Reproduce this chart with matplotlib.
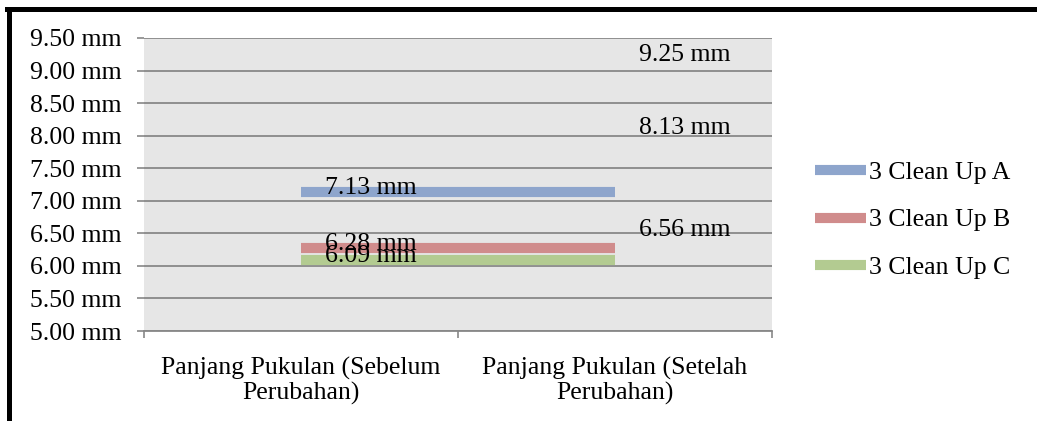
import matplotlib
matplotlib.use("Agg")
import matplotlib.pyplot as plt
from matplotlib.lines import Line2D

categories = ["Panjang Pukulan (Sebelum\nPerubahan)", "Panjang Pukulan (Setelah\nPerubahan)"]
series = ["3 Clean Up A", "3 Clean Up B", "3 Clean Up C"]
before = [7.13, 6.28, 6.09]
after = [9.25, 8.13, 6.56]
colors = ["#8ea5cc", "#d08c8c", "#b3cb91"]
yticks = [5.0, 5.5, 6.0, 6.5, 7.0, 7.5, 8.0, 8.5, 9.0, 9.5]

plt.rcParams['font.family'] = ['Liberation Serif', 'DejaVu Serif']
fs = 18.5

fig = plt.figure(figsize=(10.37, 4.21), dpi=100)
ax = fig.add_axes([144/1037, 1-331/421, (772-144)/1037, (331-38)/421])
ax.set_facecolor("#e6e6e6")

# the lines only show the first point, the second point is only a label
for i in range(len(series)):
    ax.plot([0, 1], [before[i], before[i]], color=colors[i], lw=7.3,
            solid_capstyle='butt', zorder=3)
    ax.annotate("%.2f mm" % before[i], (0, before[i]), xytext=(24, 4),
                textcoords='offset pixels', ha='left', va='center',
                fontsize=fs, zorder=4)
    ax.annotate("%.2f mm" % after[i], (1, after[i]), xytext=(24, -1),
                textcoords='offset pixels', ha='left', va='center',
                fontsize=fs, zorder=4)

ax.set_xlim(-0.5, 1.5)
ax.set_ylim(5.0, 9.5)
ax.set_yticks(yticks)
ax.set_yticklabels(["%.2f mm" % v for v in yticks], fontsize=fs)
ax.set_xticks([0, 1])
ax.set_xticklabels(categories, fontsize=fs, linespacing=1.08)
ax.set_xticks([-0.5, 0.5, 1.5], minor=True)
ax.tick_params(axis='x', which='major', length=0, pad=19)
ax.tick_params(axis='x', which='minor', length=5, width=1.2, color="#888888")
ax.tick_params(axis='y', length=5, width=1.2, color="#888888", pad=11)
ax.grid(axis='y', color="#888888", lw=1.3)
ax.set_axisbelow(True)
for s in ['top', 'right', 'left']:
    ax.spines[s].set_visible(False)
ax.spines['bottom'].set_color("#888888")
ax.spines['bottom'].set_linewidth(1.3)

handles = [Line2D([], [], color=c, lw=7.3, solid_capstyle='butt') for c in colors]
fig.legend(handles, series, loc='center left', bbox_to_anchor=(802/1037, 1-220/421),
           frameon=False, fontsize=fs, handlelength=2.0, handletextpad=0.1,
           labelspacing=0.95, borderpad=0)

# black frame on top and left
fig.add_artist(Line2D([9/1037, 9/1037], [0, 1-9/421], color='black', lw=3.6,
                      transform=fig.transFigure))
fig.add_artist(Line2D([7/1037, 1], [1-9/421, 1-9/421], color='black', lw=3.6,
                      transform=fig.transFigure))

fig.savefig("out.png", dpi=100, facecolor='white')
